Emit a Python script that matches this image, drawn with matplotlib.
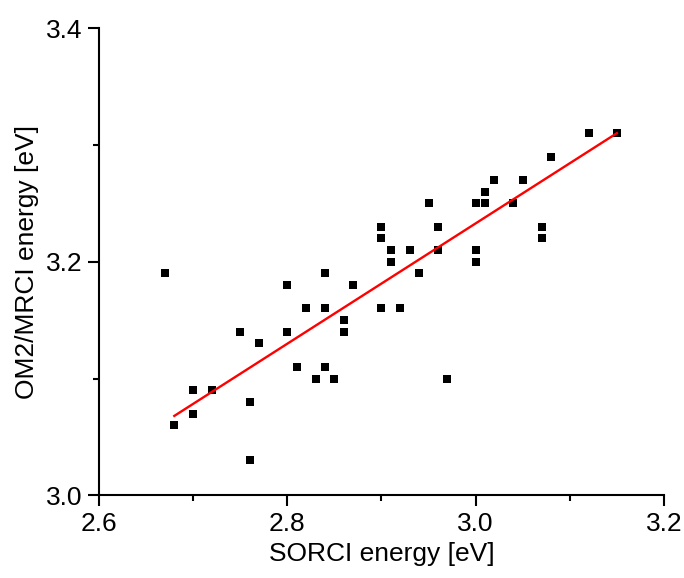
import numpy as np
import matplotlib
matplotlib.use("Agg")
import matplotlib.pyplot as plt
from matplotlib.ticker import MultipleLocator


# ---------------------------------------------------------
# Data
# ---------------------------------------------------------
sorci = [2.67, 2.68, 2.70, 2.70, 2.72, 2.75, 2.76, 2.76, 2.77,
         2.80, 2.80, 2.81, 2.82, 2.83, 2.84, 2.84, 2.84, 2.85,
         2.86, 2.86, 2.87, 2.90, 2.90, 2.90, 2.91, 2.91, 2.92,
         2.93, 2.94, 2.95, 2.96, 2.96, 2.97, 3.00, 3.00, 3.00,
         3.01, 3.01, 3.02, 3.04, 3.05, 3.07, 3.07, 3.08, 3.12, 3.15]
om2_mrci = [3.19, 3.06, 3.09, 3.07, 3.09, 3.14, 3.08, 3.03, 3.13,
            3.18, 3.14, 3.11, 3.16, 3.10, 3.19, 3.16, 3.11, 3.10,
            3.15, 3.14, 3.18, 3.23, 3.22, 3.16, 3.21, 3.20, 3.16,
            3.21, 3.19, 3.25, 3.23, 3.21, 3.10, 3.25, 3.21, 3.20,
            3.26, 3.25, 3.27, 3.25, 3.27, 3.23, 3.22, 3.29, 3.31, 3.31]

# fitted line as drawn in the reference (end points)
fit_x = [2.68, 3.15]
fit_y = [3.068, 3.310]

plt.rcParams["font.family"] = ["Liberation Sans", "DejaVu Sans"]

fig = plt.figure(figsize=(6.84, 5.78), dpi=100)
ax = fig.add_axes([0.1447, 0.143, 0.826, 0.8085])

ax.plot(sorci, om2_mrci, "s", color="black", markersize=5.2, markeredgewidth=0)
ax.plot(fit_x, fit_y, color="red", linewidth=1.7)

ax.set_xlim(2.6, 3.2)
ax.set_ylim(3.0, 3.4)
ax.xaxis.set_major_locator(MultipleLocator(0.2))
ax.xaxis.set_minor_locator(MultipleLocator(0.1))
ax.yaxis.set_major_locator(MultipleLocator(0.2))
ax.yaxis.set_minor_locator(MultipleLocator(0.1))
ax.xaxis.set_major_formatter(lambda v, p: f"{v:.1f}")
ax.yaxis.set_major_formatter(lambda v, p: f"{v:.1f}")

for side in ["top", "right"]:
    ax.spines[side].set_visible(False)
for side in ["left", "bottom"]:
    ax.spines[side].set_linewidth(1.5)

ax.tick_params(which="major", direction="out", length=8, width=1.5,
               labelsize=19, pad=4)
ax.tick_params(which="minor", direction="out", length=4.5, width=1.5)

ax.set_xlabel("SORCI energy [eV]", fontsize=19, labelpad=4)
ax.set_ylabel("OM2/MRCI energy [eV]", fontsize=19, labelpad=5)

fig.savefig("out.png", dpi=100)
